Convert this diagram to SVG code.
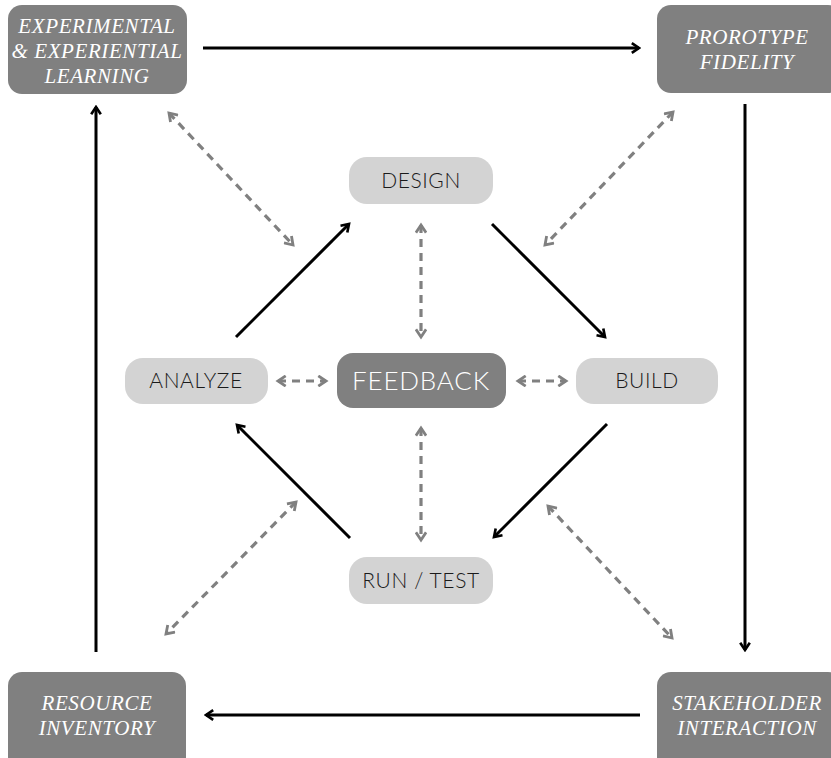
<svg xmlns="http://www.w3.org/2000/svg" width="831" height="758" viewBox="0 0 831 758">
  <style>
    .outer rect { fill: #808080; }
    .outer text { font-family: "Liberation Serif", serif; font-style: italic; font-size: 21px; fill: #ffffff; text-anchor: middle; letter-spacing: 0.6px; }
    .inner rect { fill: #d3d3d3; }
    .inner text { font-family: "Lato", "Open Sans", sans-serif; font-weight: 300; font-size: 21px; fill: #1a1a1a; text-anchor: middle; letter-spacing: 0.6px; }
    .hub rect { fill: #808080; }
    .hub text { font-family: "Lato", "Open Sans", sans-serif; font-weight: 300; font-size: 26px; fill: #ffffff; text-anchor: middle; letter-spacing: 0.8px; }
    .solid { stroke: #000000; stroke-width: 3; fill: none; marker-end: url(#headBlack); }
    .dashed { stroke: #808080; stroke-width: 3.2; fill: none; stroke-dasharray: 8 6; marker-start: url(#headGray); marker-end: url(#headGray); }
  </style>
  <defs>
    <marker id="headBlack" viewBox="0 0 10 10" refX="8" refY="5" markerWidth="4" markerHeight="4" orient="auto" markerUnits="strokeWidth">
      <path d="M2,1 L8,5 L2,9" fill="none" stroke="#000000" stroke-width="2.2"/>
    </marker>
    <marker id="headGray" viewBox="0 0 10 10" refX="8" refY="5" markerWidth="4" markerHeight="4" orient="auto-start-reverse" markerUnits="strokeWidth">
      <path d="M2,1 L8,5 L2,9" fill="none" stroke="#808080" stroke-width="2.2"/>
    </marker>
  </defs>
  <rect width="831" height="758" fill="#ffffff"/>

  <g id="connectors">
    <!-- outer cycle -->
    <line class="solid" x1="203" y1="48" x2="639" y2="48"/>
    <line class="solid" x1="745" y1="104" x2="745" y2="650"/>
    <line class="solid" x1="640" y1="715" x2="206" y2="715"/>
    <line class="solid" x1="96" y1="652" x2="96" y2="107"/>
    <!-- inner cycle -->
    <line class="solid" x1="236" y1="337" x2="349" y2="224"/>
    <line class="solid" x1="492" y1="224" x2="605" y2="337"/>
    <line class="solid" x1="607" y1="424" x2="494" y2="537"/>
    <line class="solid" x1="350" y1="538" x2="237" y2="425"/>
    <!-- two-way links -->
    <line class="dashed" x1="169" y1="113" x2="293" y2="245"/>
    <line class="dashed" x1="673" y1="112" x2="545" y2="245"/>
    <line class="dashed" x1="296" y1="502" x2="166" y2="634"/>
    <line class="dashed" x1="548" y1="506" x2="672" y2="638"/>
    <line class="dashed" x1="421" y1="225" x2="421" y2="337"/>
    <line class="dashed" x1="421" y1="428" x2="421" y2="540"/>
    <line class="dashed" x1="278" y1="381" x2="326" y2="381"/>
    <line class="dashed" x1="518" y1="381" x2="566" y2="381"/>
  </g>

  <g id="experimental-learning" class="outer">
    <rect x="8" y="5" width="179" height="89" rx="14"/>
    <text x="97" y="33">EXPERIMENTAL</text>
    <text x="97" y="58">&amp; EXPERIENTIAL</text>
    <text x="97" y="83">LEARNING</text>
  </g>
  <g id="prototype-fidelity" class="outer">
    <rect x="657" y="5" width="185" height="88" rx="14"/>
    <text x="747" y="44">PROROTYPE</text>
    <text x="747" y="69">FIDELITY</text>
  </g>
  <g id="resource-inventory" class="outer">
    <rect x="8" y="672" width="178" height="100" rx="14"/>
    <text x="97" y="710">RESOURCE</text>
    <text x="97" y="735">INVENTORY</text>
  </g>
  <g id="stakeholder-interaction" class="outer">
    <rect x="657" y="672" width="185" height="100" rx="14"/>
    <text x="747" y="710">STAKEHOLDER</text>
    <text x="747" y="735">INTERACTION</text>
  </g>

  <g id="design" class="inner">
    <rect x="349" y="157" width="144" height="47" rx="18"/>
    <text x="421" y="188">DESIGN</text>
  </g>
  <g id="analyze" class="inner">
    <rect x="125" y="358" width="143" height="46" rx="18"/>
    <text x="196" y="388">ANALYZE</text>
  </g>
  <g id="build" class="inner">
    <rect x="576" y="358" width="142" height="46" rx="18"/>
    <text x="647" y="388">BUILD</text>
  </g>
  <g id="run-test" class="inner">
    <rect x="349" y="557" width="144" height="47" rx="18"/>
    <text x="421" y="588">RUN / TEST</text>
  </g>
  <g id="feedback" class="hub">
    <rect x="337" y="353" width="169" height="55" rx="16"/>
    <text x="421" y="390">FEEDBACK</text>
  </g>
</svg>
